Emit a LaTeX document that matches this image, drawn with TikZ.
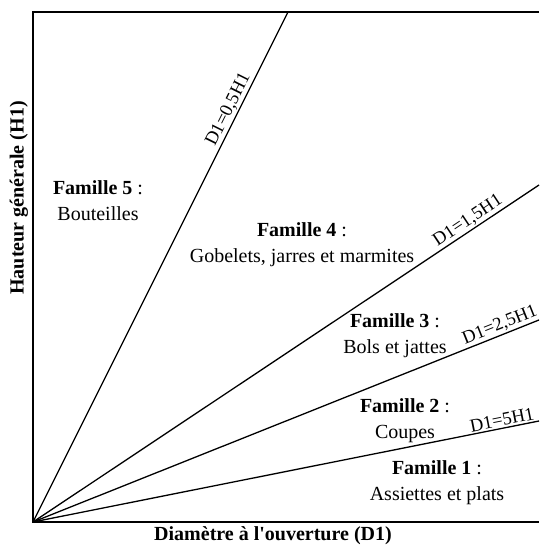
\documentclass[tikz,border=0pt]{standalone}
\usepackage{fontspec}
\setmainfont{Liberation Serif}
\begin{document}
\begin{tikzpicture}[x=1pt,y=1pt,
  frameline/.style={line width=1.5pt},
  ray/.style={line width=1.3pt},
  fam/.style={align=center,font=\fontsize{20}{26}\selectfont,inner sep=0pt},
  axlab/.style={font=\fontsize{20}{22}\selectfont\bfseries,inner sep=0pt},
  raylab/.style={font=\fontsize{18.5}{20}\selectfont,sloped,above=0.5pt,inner sep=1pt}]
\useasboundingbox (0,0) rectangle (539,546);
\coordinate (O) at (33,24);
\coordinate (TL) at (33,534);
\coordinate (TR) at (539,534);
\coordinate (BR) at (539,24);
\coordinate (t1) at (288,534);
\coordinate (t2) at (539,361);
\coordinate (t3) at (539,226);
\coordinate (t4) at (539,125);
\draw[frameline] (TR) -- (TL) -- (O) -- (BR);
\draw[ray] (O) -- node[raylab,pos=0.80] {D1=0,5H1} (t1);
\draw[ray] (O) -- node[raylab,pos=0.87] {D1=1,5H1} (t2);
\draw[ray] (O) -- node[raylab,pos=0.93] {D1=2,5H1} (t3);
\draw[ray] (O) -- node[raylab,pos=0.93] {D1=5H1} (t4);
\node[fam] (f5) at (98,345) {\textbf{Famille 5} :\\Bouteilles};
\node[fam] (f4) at (302,301.5) {\textbf{Famille 4} :\\Gobelets, jarres et marmites};
\node[fam] (f3) at (395,210) {\textbf{Famille 3} :\\Bols et jattes};
\node[fam] (f2) at (405,125) {\textbf{Famille 2} :\\Coupes};
\node[fam] (f1) at (437,63) {\textbf{Famille 1} :\\Assiettes et plats};
\node[axlab,rotate=90] (ylab) at (19,348) {Hauteur générale (H1)};
\node[axlab] (xlab) at (273,10) {Diamètre à l\textquotesingle ouverture (D1)};
\end{tikzpicture}
\end{document}
